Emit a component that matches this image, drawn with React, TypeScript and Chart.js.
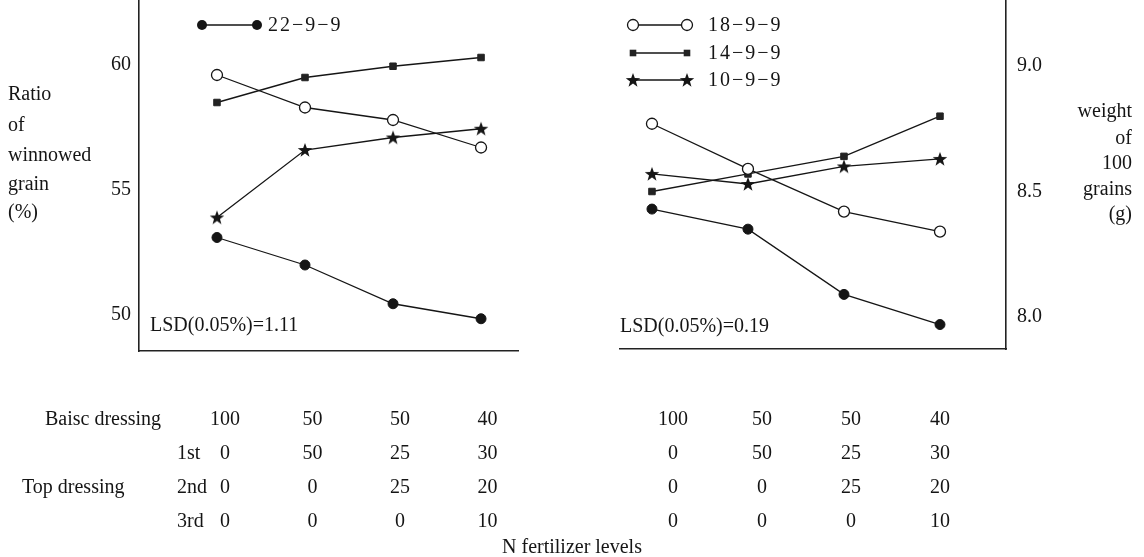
import React, { useEffect, useRef } from "react";
import { Chart, registerables } from "chart.js";

Chart.register(...registerables);

const FONT = "'Liberation Serif', 'Times New Roman', serif";
const INK = "#151515";

// ---- data ----
const levels = [0, 1, 2, 3]; // treatment index (4 N fertilizer levels)
const seriesNames = ["22−9−9", "18−9−9", "14−9−9", "10−9−9"];

const ratio22 = [53.1, 52.0, 50.45, 49.85];
const ratio18 = [59.6, 58.3, 57.8, 56.7];
const ratio14 = [58.5, 59.5, 59.95, 60.3];
const ratio10 = [53.9, 56.6, 57.1, 57.45];

const weight22 = [8.43, 8.35, 8.09, 7.97];
const weight18 = [8.77, 8.59, 8.42, 8.34];
const weight14 = [8.5, 8.57, 8.64, 8.8];
const weight10 = [8.57, 8.53, 8.6, 8.63];

const ratioTicks = [50, 55, 60];
const weightTicks = [8.0, 8.5, 9.0];

const ratioTitle = ["Ratio", "of", "winnowed", "grain", "(%)"];
const weightTitle = ["weight", "of", "100", "grains", "(g)"];

const lsdRatio = "LSD(0.05%)=1.11";
const lsdWeight = "LSD(0.05%)=0.19";

const basicDressing = ["100", "50", "50", "40"];
const topDressing1st = ["0", "50", "25", "30"];
const topDressing2nd = ["0", "0", "25", "20"];
const topDressing3rd = ["0", "0", "0", "10"];
const tableRows = [basicDressing, topDressing1st, topDressing2nd, topDressing3rd];
const rowLabels = ["Baisc dressing", "1st", "Top dressing", "2nd", "3rd"];
const xAxisTitle = "N fertilizer levels";

// ---- layout (pixels) ----
const ROW_Y = [420, 454, 488, 522];

function makeStar(): HTMLCanvasElement {
  const c = document.createElement("canvas");
  c.width = 16;
  c.height = 16;
  const g = c.getContext("2d")!;
  g.fillStyle = INK;
  g.beginPath();
  const cx = 8, cy = 8.5, R = 7.6, r = 3.1;
  for (let i = 0; i < 10; i++) {
    const a = -Math.PI / 2 + (i * Math.PI) / 5;
    const rad = i % 2 === 0 ? R : r;
    const x = cx + rad * Math.cos(a);
    const y = cy + rad * Math.sin(a);
    if (i === 0) g.moveTo(x, y);
    else g.lineTo(x, y);
  }
  g.closePath();
  g.fill();
  return c;
}

function markerStyles(star: HTMLCanvasElement) {
  return [
    { pointStyle: "circle", pointRadius: 5, pointBackgroundColor: INK, pointBorderColor: INK, pointBorderWidth: 1 },
    { pointStyle: "circle", pointRadius: 5.5, pointBackgroundColor: "#fff", pointBorderColor: INK, pointBorderWidth: 1.3 },
    { pointStyle: "rect", pointRadius: 4.6, pointBackgroundColor: "#222", pointBorderColor: "#222", pointBorderWidth: 1 },
    { pointStyle: star, pointRadius: 7, pointBackgroundColor: INK, pointBorderColor: INK, pointBorderWidth: 0 },
  ];
}

function drawMarker(ctx: CanvasRenderingContext2D, kind: number, x: number, y: number, star: HTMLCanvasElement) {
  ctx.save();
  ctx.strokeStyle = INK;
  ctx.fillStyle = INK;
  if (kind === 0) {
    ctx.beginPath();
    ctx.arc(x, y, 5, 0, Math.PI * 2);
    ctx.fill();
  } else if (kind === 1) {
    ctx.beginPath();
    ctx.arc(x, y, 5.5, 0, Math.PI * 2);
    ctx.fillStyle = "#fff";
    ctx.fill();
    ctx.lineWidth = 1.3;
    ctx.stroke();
  } else if (kind === 2) {
    ctx.fillStyle = "#222";
    ctx.fillRect(x - 3.3, y - 3.3, 6.6, 6.6);
  } else {
    ctx.drawImage(star, x - star.width / 2, y - star.height / 2);
  }
  ctx.restore();
}

function drawLegendEntry(
  ctx: CanvasRenderingContext2D, kind: number, x1: number, x2: number, y: number, tx: number, label: string, star: HTMLCanvasElement
) {
  ctx.save();
  ctx.strokeStyle = INK;
  ctx.lineWidth = 1.3;
  ctx.beginPath();
  ctx.moveTo(x1, y);
  ctx.lineTo(x2, y);
  ctx.stroke();
  drawMarker(ctx, kind, x1, y, star);
  drawMarker(ctx, kind, x2, y, star);
  ctx.fillStyle = INK;
  ctx.font = `20px ${FONT}`;
  (ctx as any).letterSpacing = "2px";
  ctx.textAlign = "left";
  ctx.textBaseline = "middle";
  ctx.fillText(label, tx, y + 1);
  ctx.restore();
}

function buildDatasets(values: number[][], star: HTMLCanvasElement) {
  const st = markerStyles(star);
  return values.map((vals, k) => ({
    label: seriesNames[k],
    data: vals.map((v, i) => ({ x: levels[i], y: v })),
    borderColor: INK,
    borderWidth: 1.3,
    fill: false,
    tension: 0,
    ...st[k],
  }));
}

function yScale(min: number, max: number, ticks: number[], position: string, width: number, padding: number, fmt: (v: number) => string) {
  return {
    type: "linear",
    position,
    min,
    max,
    grid: { display: false, drawTicks: false },
    border: { display: true, color: "#222", width: 1.6 },
    ticks: {
      color: INK,
      padding,
      font: { family: FONT, size: 20 },
      callback: (v: any) => fmt(Number(v)),
    },
    afterBuildTicks: (s: any) => {
      s.ticks = ticks.map((v) => ({ value: v }));
    },
    afterFit: (s: any) => {
      s.width = width;
      s.paddingTop = 0;
      s.paddingBottom = 0;
    },
  };
}

function xScale(min: number, max: number) {
  return {
    type: "linear",
    min,
    max,
    grid: { display: false, drawTicks: false },
    border: { display: true, color: "#222", width: 1.6 },
    ticks: { display: false },
    afterFit: (s: any) => {
      s.height = 0;
      s.paddingLeft = 0;
      s.paddingRight = 0;
    },
  };
}

// table columns: first column centre and column step (layout)
function drawTable(ctx: CanvasRenderingContext2D, x0: number, step: number) {
  ctx.save();
  ctx.fillStyle = INK;
  ctx.font = `20px ${FONT}`;
  ctx.textAlign = "center";
  ctx.textBaseline = "middle";
  tableRows.forEach((row, r) => {
    row.forEach((v, i) => {
      ctx.fillText(v, x0 + step * levels[i], ROW_Y[r]);
    });
  });
  ctx.restore();
}

export default function App() {
  const leftRef = useRef<HTMLCanvasElement>(null);
  const rightRef = useRef<HTMLCanvasElement>(null);

  useEffect(() => {
    const star = makeStar();

    const leftPlugin = {
      id: "leftExtras",
      afterDraw(chart: any) {
        const ctx: CanvasRenderingContext2D = chart.ctx;
        ctx.save();
        ctx.fillStyle = INK;
        ctx.font = `20px ${FONT}`;
        ctx.textBaseline = "middle";
        ctx.textAlign = "left";
        const ty = [95, 126, 156, 185, 213];
        ratioTitle.forEach((t, i) => ctx.fillText(t, 8, ty[i]));
        ctx.fillText(lsdRatio, 150, 326);
        ctx.fillText(rowLabels[0], 45, ROW_Y[0]);
        ctx.fillText(rowLabels[1], 177, ROW_Y[1]);
        ctx.fillText(rowLabels[2], 22, ROW_Y[2]);
        ctx.fillText(rowLabels[3], 177, ROW_Y[2]);
        ctx.fillText(rowLabels[4], 177, ROW_Y[3]);
        ctx.restore();
        drawLegendEntry(ctx, 0, 202, 257, 25, 268, seriesNames[0], star);
        drawTable(ctx, 225, 87.5);
      },
    };

    const rightPlugin = {
      id: "rightExtras",
      afterDraw(chart: any) {
        const ctx: CanvasRenderingContext2D = chart.ctx;
        ctx.save();
        ctx.fillStyle = INK;
        ctx.font = `20px ${FONT}`;
        ctx.textBaseline = "middle";
        ctx.textAlign = "right";
        const ty = [112, 139, 164, 190, 215];
        weightTitle.forEach((t, i) => ctx.fillText(t, 572, ty[i]));
        ctx.textAlign = "left";
        ctx.fillText(lsdWeight, 60, 327);
        ctx.restore();
        const ly = [25, 53, 80];
        [1, 2, 3].forEach((k, i) => drawLegendEntry(ctx, k, 73, 127, ly[i], 148, seriesNames[k], star));
        drawTable(ctx, 673 - 560, 89);
      },
    };

    const common = {
      animation: false,
      responsive: false,
      events: [],
      plugins: { legend: { display: false }, tooltip: { enabled: false } },
    };

    const left = new Chart(leftRef.current!, {
      type: "line",
      data: { datasets: buildDatasets([ratio22, ratio18, ratio14, ratio10], star) as any },
      options: {
        ...common,
        layout: { autoPadding: false, padding: { left: 0, top: 0, right: 42, bottom: 206 } },
        scales: {
          x: xScale(-0.886, 3.42),
          y: yScale(48.56, 62.6, ratioTicks, "left", 139, 8, (v) => String(v)),
        },
      } as any,
      plugins: [leftPlugin],
    });

    const right = new Chart(rightRef.current!, {
      type: "line",
      data: { datasets: buildDatasets([weight22, weight18, weight14, weight10], star) as any },
      options: {
        ...common,
        layout: { autoPadding: false, padding: { left: 60, top: 0, right: 0, bottom: 208 } },
        scales: {
          x: xScale(-0.333, 3.6875),
          y: yScale(7.8725, 9.263, weightTicks, "right", 138, 11, (v) => v.toFixed(1)),
        },
      } as any,
      plugins: [rightPlugin],
    });

    return () => {
      left.destroy();
      right.destroy();
    };
  }, []);

  return (
    <div style={{ position: "absolute", left: 0, top: 0, width: 1144, height: 557, background: "#fff", overflow: "hidden" }}>
      <canvas ref={leftRef} width={560} height={557} style={{ position: "absolute", left: 0, top: 0 }} />
      <canvas ref={rightRef} width={584} height={557} style={{ position: "absolute", left: 560, top: 0 }} />
      <div
        style={{
          position: "absolute",
          left: 0,
          top: 534,
          width: 1144,
          textAlign: "center",
          font: `20px ${FONT}`,
          color: INK,
          lineHeight: "24px",
        }}
      >
        {xAxisTitle}
      </div>
    </div>
  );
}
